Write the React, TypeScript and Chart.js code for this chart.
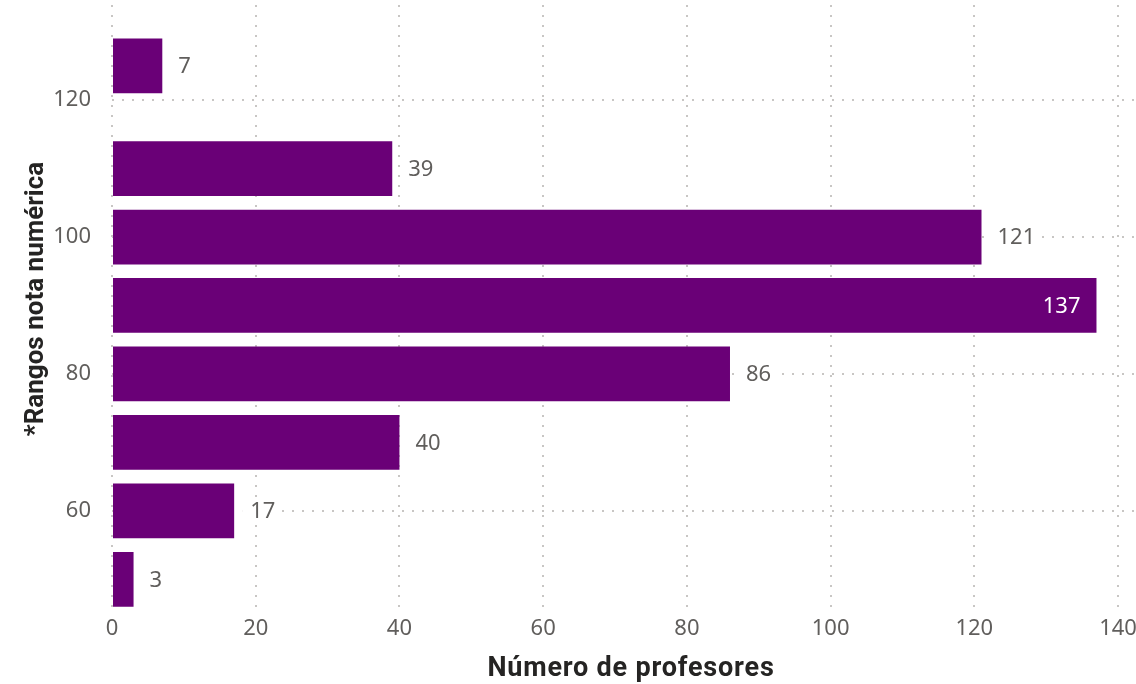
import React, { useEffect, useRef } from "react";
import { Chart, registerables } from "chart.js";

Chart.register(...registerables);

// Data
const rangePositions = [50, 60, 70, 80, 90, 100, 110, 125];
const teacherCounts = [3, 17, 40, 86, 137, 121, 39, 7];
const yTickValues = [60, 80, 100, 120];
const xTickValues = [0, 20, 40, 60, 80, 100, 120, 140];
const xTitle = "Número de profesores";
const yTitle = "*Rangos nota numérica";

const BAR_COLOR = "#6A0077";
const TICK_COLOR = "#605E5C";
const TITLE_COLOR = "#252423";
const GRID_COLOR = "#C8C6C4";
const TICK_FONT = { family: "'Noto Sans', 'Open Sans', sans-serif", size: 22 };

const labelPlugin = {
  id: "barLabels",
  afterDatasetsDraw(chart: any) {
    const ctx = chart.ctx;
    const meta = chart.getDatasetMeta(0);
    const area = chart.chartArea;
    ctx.save();
    ctx.font = `${TICK_FONT.size}px ${TICK_FONT.family}`;
    ctx.textBaseline = "middle";
    meta.data.forEach((bar: any, i: number) => {
      const { x, y } = bar.getProps(["x", "y"], true);
      const text = String(teacherCounts[i]);
      const w = ctx.measureText(text).width;
      const gap = 16;
      if (x + gap + w > area.right - 2) {
        ctx.textAlign = "right";
        ctx.fillStyle = "#FFFFFF";
        ctx.fillText(text, x - gap, y + 1);
      } else {
        const tx = x + gap;
        ctx.fillStyle = "#FFFFFF";
        ctx.fillRect(tx - 8, y - 12, w + 14, 24);
        ctx.textAlign = "left";
        ctx.fillStyle = TICK_COLOR;
        ctx.fillText(text, tx, y + 1);
      }
    });
    ctx.restore();
  },
};

const titlePlugin = {
  id: "axisTitles",
  afterDraw(chart: any) {
    const ctx = chart.ctx;
    ctx.save();
    ctx.fillStyle = TITLE_COLOR;
    ctx.textAlign = "center";
    ctx.textBaseline = "alphabetic";
    ctx.font = "bold 27px 'Roboto', 'Open Sans', sans-serif";
    (ctx as any).letterSpacing = "0.8px";
    ctx.fillText(xTitle, 631, 676);
    ctx.font = "bold 26px 'Roboto', 'Open Sans', sans-serif";
    (ctx as any).letterSpacing = "0px";
    ctx.translate(43, 299);
    ctx.rotate(-Math.PI / 2);
    ctx.fillText(yTitle, 0, 0);
    ctx.restore();
  },
};

export default function App() {
  const canvasRef = useRef<HTMLCanvasElement | null>(null);

  useEffect(() => {
    document.body.style.margin = "0";
    const canvas = canvasRef.current;
    if (!canvas) return;
    const chart = new Chart(canvas, {
      type: "bar",
      data: {
        datasets: [
          {
            data: rangePositions.map((p, i) => ({ x: teacherCounts[i], y: p })),
            backgroundColor: BAR_COLOR,
            borderWidth: 0,
            barPercentage: 1,
            categoryPercentage: 0.8,
          },
        ],
      },
      options: {
        indexAxis: "y",
        animation: false,
        responsive: true,
        maintainAspectRatio: false,
        layout: { padding: { top: 5, right: 0, left: 0, bottom: 0 } },
        plugins: {
          legend: { display: false },
          tooltip: { enabled: false },
        },
        scales: {
          x: {
            type: "linear",
            min: 0,
            max: 142.5,
            offset: false,
            afterBuildTicks: (axis: any) => {
              axis.ticks = xTickValues.map((v) => ({ value: v }));
            },
            afterFit: (axis: any) => {
              axis.height = 76;
              axis.paddingLeft = 0;
              axis.paddingRight = 0;
              axis.paddingTop = 0;
              axis.paddingBottom = 0;
            },
            grid: { color: GRID_COLOR, lineWidth: 2, drawTicks: false, offset: false },
            border: { display: false, dash: [2, 8] },
            ticks: { color: TICK_COLOR, font: TICK_FONT, padding: 8 },
          },
          y: {
            type: "linear",
            min: 45.8,
            max: 133.9,
            offset: false,
            afterBuildTicks: (axis: any) => {
              axis.ticks = yTickValues.map((v) => ({ value: v }));
            },
            afterFit: (axis: any) => {
              axis.width = 112;
              axis.paddingLeft = 0;
              axis.paddingRight = 0;
              axis.paddingTop = 0;
              axis.paddingBottom = 0;
            },
            grid: { color: GRID_COLOR, lineWidth: 2, drawTicks: false, offset: false },
            border: { display: false, dash: [2, 8] },
            ticks: { color: TICK_COLOR, font: TICK_FONT, padding: 21 },
          },
        },
      },
      plugins: [labelPlugin, titlePlugin],
    } as any);
    return () => chart.destroy();
  }, []);

  return (
    <div style={{ width: 1136, height: 684, position: "relative" }}>
      <canvas ref={canvasRef} />
    </div>
  );
}
